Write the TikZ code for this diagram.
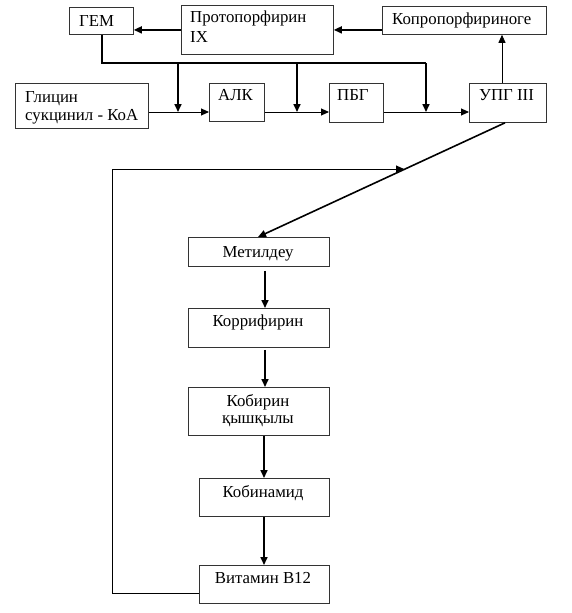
\documentclass[tikz,border=0pt]{standalone}
\usepackage{fontspec}
\setmainfont{Liberation Serif}
\usetikzlibrary{arrows.meta,calc}
\begin{document}
\begin{tikzpicture}[x=1pt,y=-1pt,
  box/.style={draw=black!80,line width=0.8pt,anchor=north west,inner sep=0pt,fill=white},
  txt/.style={inner sep=0pt,font=\fontsize{16.8}{18}\selectfont},
  tip/.style={-{Triangle[length=8pt,width=7pt]}},
  thick line/.style={line width=1.6pt},
  thin line/.style={line width=0.9pt}]
\useasboundingbox[fill=white] (0,0) rectangle (572,613);
% boxes
\node[box,minimum width=64pt,minimum height=27pt] (gem) at (69,7) {};
\node[box,minimum width=152pt,minimum height=49pt] (prot) at (181,5) {};
\node[box,minimum width=164pt,minimum height=28pt] (kopro) at (382,6) {};
\node[box,minimum width=133pt,minimum height=45pt] (gly) at (15,83) {};
\node[box,minimum width=55pt,minimum height=38pt] (alk) at (209,83) {};
\node[box,minimum width=54pt,minimum height=39pt] (pbg) at (329,83) {};
\node[box,minimum width=77pt,minimum height=39pt] (upg) at (469,83) {};
\node[box,minimum width=141pt,minimum height=29pt] (metil) at (188,237) {};
\node[box,minimum width=141pt,minimum height=39pt] (korr) at (188,308) {};
\node[box,minimum width=141pt,minimum height=48pt] (kob) at (188,387) {};
\node[box,minimum width=130pt,minimum height=38pt] (kobin) at (199,478) {};
\node[box,minimum width=130pt,minimum height=38pt] (vit) at (199,565) {};
% texts
\node[txt,anchor=base west] (gemT) at (79,26) {ГЕМ};
\node[txt,anchor=base west] (protT1) at (190,23) {Протопорфирин};
\node[txt,anchor=base west] (protT2) at (190,42) {IX};
\node[txt,anchor=base west] (koproT) at (392,24) {Копропорфириноге};
\node[txt,anchor=base west] (glyT1) at (25,102) {Глицин};
\node[txt,anchor=base west] (glyT2) at (25,120) {сукцинил - КоА};
\node[txt,anchor=base west] (alkT) at (218,100) {АЛК};
\node[txt,anchor=base west] (pbgT) at (337,100) {ПБГ};
\node[txt,anchor=base west] (upgT) at (479,100) {УПГ III};
\node[txt,anchor=base] (metilT) at (258,257) {Метилдеу};
\node[txt,anchor=base] (korrT) at (258,326) {Коррифирин};
\node[txt,anchor=base] (kobT1) at (258,406) {Кобирин};
\node[txt,anchor=base] (kobT2) at (258,423) {қышқылы};
\node[txt,anchor=base] (kobinT) at (263,497) {Кобинамид};
\node[txt,anchor=base] (vitT) at (263,583) {Витамин В12};
% coordinates
\coordinate (gemS) at (gem.south -| 102,0);
\coordinate (bus) at (102,63);
\coordinate (busR) at (426,63);
\coordinate (d1) at (178,63);
\coordinate (d2) at (297,63);
\coordinate (d1e) at (178,112);
\coordinate (d2e) at (297,112);
\coordinate (d3e) at (426,112);
\coordinate (upgD) at ($(upg.south west)+(36,0)$);
\coordinate (join) at (404,169);
\coordinate (loopB) at (112,593);
\coordinate (loopT) at (112,169);
% top row arrows
\draw[thick line,tip] (prot.west) -- (gem.east |- prot.west);
\draw[thick line,tip] (kopro.west |- prot.west) -- (prot.east);
\draw[thin line,tip] (upg.north -| 502,0) -- (kopro.south -| 502,0);
% bus from GEM
\draw[thick line] (gemS) -- (bus) -- (busR);
\draw[thick line,tip] (d1) -- (d1e);
\draw[thick line,tip] (d2) -- (d2e);
\draw[thick line,tip] (busR) -- (d3e);
% main flow
\draw[thin line,tip] (gly.east |- d1e) -- (alk.west |- d1e);
\draw[thin line,tip] (alk.east |- d1e) -- (pbg.west |- d1e);
\draw[thin line,tip] (pbg.east |- d1e) -- (upg.west |- d1e);
% diagonal
\draw[thick line,tip] (upgD) -- (metil.north -| 258,0);
% loop
\draw[thin line,tip] (vit.west |- loopB) -- (loopB) -- (loopT) -- (join);
% vertical chain
\draw[thick line,tip] ($(metil.south -| 265,0)+(0,4)$) -- (korr.north -| 265,0);
\draw[thick line,tip] ($(korr.south -| 265,0)+(0,2)$) -- (kob.north -| 265,0);
\draw[thick line,tip] (kob.south -| 264,0) -- (kobin.north -| 264,0);
\draw[thick line,tip] (kobin.south -| 264,0) -- (vit.north -| 264,0);
\end{tikzpicture}
\end{document}
